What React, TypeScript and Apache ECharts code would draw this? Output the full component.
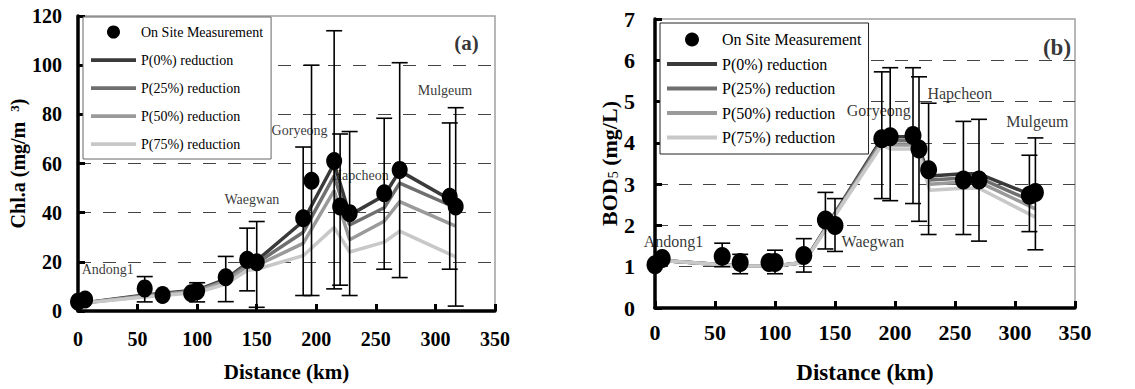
import React, { useEffect, useRef } from 'react';
import * as echarts from 'echarts';

// ---------- data ----------
const siteKm = [0, 6, 56, 71, 95, 100, 124, 142, 150, 189, 196, 215, 220, 228, 257, 270, 312, 317];

const chlMeasured = [3.8, 4.7, 9.2, 6.5, 7.2, 8.1, 13.7, 20.8, 19.8, 37.7, 53, 61, 42.5, 39.8, 47.9, 57.4, 46.5, 42.5];
const chlErrHigh = [null, null, 14, null, null, 11.5, 22.2, 33.7, 36.4, 66.7, 100, 114, 72, 73, 78.4, 101, 76.5, 82.7];
const chlErrLow = [null, null, 3.7, null, null, 3.7, 3.8, 8.2, 1.5, 6.3, 6.3, 9, 10.5, 6.3, 17, 13.6, 17, 2];

const chlModelKm = [0, 56, 100, 124, 142, 150, 189, 215, 228, 257, 270, 317];
const chlP0 = [3, 6.5, 8.5, 13, 19.5, 20.5, 36.5, 60, 39, 47, 57, 44];
const chlP25 = [3, 6.2, 8.2, 12.5, 19, 19.5, 32, 55, 35, 42, 52, 42];
const chlP50 = [3, 6, 8, 12, 18, 18.5, 27.5, 49, 29, 36.5, 44.5, 34.5];
const chlP75 = [3, 5.7, 7.5, 11, 16.5, 17, 22.5, 34, 24, 28, 32.5, 22];

const bodMeasured = [1.05, 1.2, 1.25, 1.1, 1.1, 1.1, 1.27, 2.13, 2.0, 4.1, 4.15, 4.18, 3.85, 3.35, 3.1, 3.1, 2.73, 2.8];
const bodErrHigh = [null, null, 1.57, 1.3, null, 1.4, 1.68, 2.8, 2.65, 5.72, 5.82, 5.82, 5.6, 4.96, 4.52, 4.57, 3.7, 4.12];
const bodErrLow = [null, null, 1.0, 0.83, null, 0.83, 0.87, 1.43, 1.37, 2.65, 2.6, 2.53, 2.1, 1.78, 1.78, 1.62, 1.85, 1.41];

const bodModelKm = [0, 6, 56, 71, 100, 124, 189, 196, 215, 220, 229, 257, 270, 317];
const bodP0 = [1.1, 1.15, 1.05, 1.02, 1.02, 1.1, 4.1, 4.15, 4.15, 3.85, 3.2, 3.25, 3.25, 2.7];
const bodP25 = [1.1, 1.15, 1.05, 1.02, 1.02, 1.1, 4.05, 4.05, 4.05, 3.8, 3.1, 3.15, 3.15, 2.55];
const bodP50 = [1.1, 1.15, 1.05, 1.02, 1.02, 1.1, 4.0, 3.95, 3.95, 3.75, 3.0, 3.05, 3.05, 2.4];
const bodP75 = [1.1, 1.15, 1.05, 1.02, 1.02, 1.1, 3.95, 3.85, 3.85, 3.7, 2.85, 2.9, 2.9, 2.2];

const measuredName = 'On Site Measurement';
const scenarioNames = ['P(0%) reduction', 'P(25%) reduction', 'P(50%) reduction', 'P(75%) reduction'];
const stationNames = ['Andong1', 'Waegwan', 'Goryeong', 'Hapcheon', 'Mulgeum'];
const chlStationLabelAt = [[25, 17], [146, 45.5], [186, 73.6], [237, 55], [308, 89.5]];
const bodStationLabelAt = [[15.5, 1.62], [181.6, 1.62], [186.5, 4.79], [254, 5.19], [318.7, 4.52]];
const panelTags = ['(a)', '(b)'];
const chlTagAt = [326, 109];
const bodTagAt = [335, 6.3];

// ---------- styles ----------
const FONT = 'Liberation Serif';
const lineColors = ['#3a3a3a', '#6f6f6f', '#9a9a9a', '#c8c8c8'];
const lineIcon = 'path://M0,0 L48,0 L48,4 L0,4 Z';

function buildPanel(
  idx: number,
  measured: number[],
  errHigh: (number | null)[],
  errLow: (number | null)[],
  modelKm: number[],
  models: number[][],
  labelAt: number[][],
  tag: string,
  tagAt: number[],
  fontSize: number,
  tagSize: number,
  markerSize: number[],
) {
  const series: any[] = [];
  models.forEach((m, i) => {
    series.push({
      type: 'line',
      name: scenarioNames[i],
      xAxisIndex: idx,
      yAxisIndex: idx,
      data: modelKm.map((k, j) => [k, m[j]]),
      symbol: 'none',
      showSymbol: false,
      lineStyle: { color: lineColors[i], width: 3.5 },
      itemStyle: { color: lineColors[i] },
      z: 2,
    });
  });
  const errData: number[][] = [];
  siteKm.forEach((k, i) => {
    if (errHigh[i] != null && errLow[i] != null) errData.push([k, errLow[i] as number, errHigh[i] as number]);
  });
  series.push({
    type: 'custom',
    xAxisIndex: idx,
    yAxisIndex: idx,
    data: errData,
    encode: { x: 0, y: [1, 2] },
    clip: false,
    silent: true,
    z: 3,
    renderItem: (params: any, api: any) => {
      const x = api.value(0);
      const lo = api.coord([x, api.value(1)]);
      const hi = api.coord([x, api.value(2)]);
      const hw = 8;
      const st = { stroke: '#000', lineWidth: 1.6 };
      return {
        type: 'group',
        children: [
          { type: 'line', shape: { x1: lo[0], y1: lo[1], x2: hi[0], y2: hi[1] }, style: st },
          { type: 'line', shape: { x1: hi[0] - hw, y1: hi[1], x2: hi[0] + hw, y2: hi[1] }, style: st },
          { type: 'line', shape: { x1: lo[0] - hw, y1: lo[1], x2: lo[0] + hw, y2: lo[1] }, style: st },
        ],
      };
    },
  });
  series.push({
    type: 'scatter',
    name: measuredName,
    xAxisIndex: idx,
    yAxisIndex: idx,
    data: siteKm.map((k, i) => [k, measured[i]]),
    symbol: 'circle',
    symbolSize: markerSize,
    itemStyle: { color: '#000', opacity: 1 },
    z: 4,
  });
  series.push({
    type: 'scatter',
    xAxisIndex: idx,
    yAxisIndex: idx,
    symbolSize: 1,
    silent: true,
    itemStyle: { color: 'rgba(0,0,0,0)' },
    z: 6,
    label: { show: true, position: 'inside', formatter: '{b}', fontFamily: FONT, fontSize, color: '#000' },
    data: [
      ...stationNames.map((n, i) => ({ name: n, value: labelAt[i] })),
      {
        name: tag,
        value: tagAt,
        label: { fontWeight: 'bold', fontSize: tagSize },
      },
    ],
  });
  return series;
}

export default function App() {
  const ref = useRef<HTMLDivElement>(null);
  useEffect(() => {
    if (!ref.current) return;
    const chart = echarts.init(ref.current, undefined, { renderer: 'svg' });

    const axisLineStyle = { color: '#000', width: 3.5 };
    const tickStyle = { show: true, inside: true, length: 7, lineStyle: { color: '#000', width: 3 } };

    const xAxisBase = (idx: number, fs: number, margin: number, nameGap: number) => ({
      type: 'value',
      gridIndex: idx,
      min: 0,
      max: 350,
      interval: 50,
      name: 'Distance (km)',
      nameLocation: 'middle',
      nameGap,
      nameTextStyle: { fontFamily: FONT, fontSize: fs + 1, fontWeight: 'bold', color: '#000' },
      axisLine: { show: true, lineStyle: axisLineStyle },
      axisTick: tickStyle,
      axisLabel: { fontFamily: FONT, fontSize: fs, fontWeight: 'bold', color: '#000', margin },
      splitLine: { show: false },
    });

    const legendBase = (left: number, top: number, fs: number, iw: number, ih: number, gap: number, pad: number[], border: string) => ({
      left,
      top,
      orient: 'vertical',
      selectedMode: false,
      padding: pad,
      itemWidth: iw,
      itemHeight: ih,
      itemGap: gap,
      itemTextGap: 2,
      backgroundColor: '#fff',
      borderColor: border,
      borderWidth: 1,
      textStyle: { fontFamily: FONT, fontSize: fs, color: '#000', lineHeight: fs },
      data: [
        { name: measuredName, icon: 'circle', itemStyle: { color: '#000', opacity: 1 } },
        ...scenarioNames.map((n) => ({ name: n, icon: lineIcon })),
      ],
    });

    const option: any = {
      animation: false,
      backgroundColor: '#fff',
      textStyle: { fontFamily: FONT },
      grid: [
        { left: 78, top: 16, width: 417, height: 295, show: true, borderColor: '#a0a0a0', borderWidth: 1.5, backgroundColor: '#fff' },
        { left: 655, top: 19, width: 420, height: 294, show: true, borderColor: '#a0a0a0', borderWidth: 1.5, backgroundColor: '#fff' },
      ],
      legend: [
        legendBase(83, 17, 14, 45, 13, 14, [8, 8, 8, 8], '#666'),
        legendBase(660, 23, 16, 50, 14, 8.5, [8.5, 7, 8.5, 7], '#222'),
      ],
      xAxis: [xAxisBase(0, 20, 18, 50), xAxisBase(1, 22, 13, 53)],
      yAxis: [
        {
          type: 'value',
          gridIndex: 0,
          min: 0,
          max: 120,
          interval: 20,
          name: '{t|Chl.a (mg/m  }{s|3}{t|)}',
          nameLocation: 'middle',
          nameGap: 50,
          nameTextStyle: {
            rich: {
              t: { fontFamily: FONT, fontSize: 20, fontWeight: 'bold', color: '#000' },
              s: { fontFamily: FONT, fontSize: 13, fontWeight: 'bold', color: '#000', verticalAlign: 'top' },
            },
          },
          axisLine: { show: true, lineStyle: axisLineStyle },
          axisTick: tickStyle,
          axisLabel: { fontFamily: FONT, fontSize: 20, fontWeight: 'bold', color: '#000', margin: 16 },
          splitLine: { show: true, showMinLine: false, showMaxLine: false, lineStyle: { color: '#444', width: 1, type: [13, 12] } },
        },
        {
          type: 'value',
          gridIndex: 1,
          min: 0,
          max: 7,
          interval: 1,
          name: '{t|BOD}{s|5}{t| (mg/L)}',
          nameLocation: 'middle',
          nameGap: 34,
          nameTextStyle: {
            rich: {
              t: { fontFamily: FONT, fontSize: 22, fontWeight: 'bold', color: '#000' },
              s: { fontFamily: FONT, fontSize: 14, color: '#000', verticalAlign: 'bottom' },
            },
          },
          axisLine: { show: true, lineStyle: axisLineStyle },
          axisTick: tickStyle,
          axisLabel: { fontFamily: FONT, fontSize: 22, fontWeight: 'bold', color: '#000', margin: 20 },
          splitLine: { show: true, showMinLine: false, showMaxLine: false, lineStyle: { color: '#444', width: 1, type: [13, 11] } },
        },
      ],
      series: [
        ...buildPanel(0, chlMeasured, chlErrHigh, chlErrLow, chlModelKm, [chlP0, chlP25, chlP50, chlP75],
          chlStationLabelAt, panelTags[0], chlTagAt, 14, 21, [16, 18]),
        ...buildPanel(1, bodMeasured, bodErrHigh, bodErrLow, bodModelKm, [bodP0, bodP25, bodP50, bodP75],
          bodStationLabelAt, panelTags[1], bodTagAt, 16, 23, [17, 19]),
      ],
    };
    chart.setOption(option);
    return () => chart.dispose();
  }, []);
  return <div ref={ref} style={{ position: 'absolute', left: 0, top: 0, width: 1135, height: 389 }} />;
}
